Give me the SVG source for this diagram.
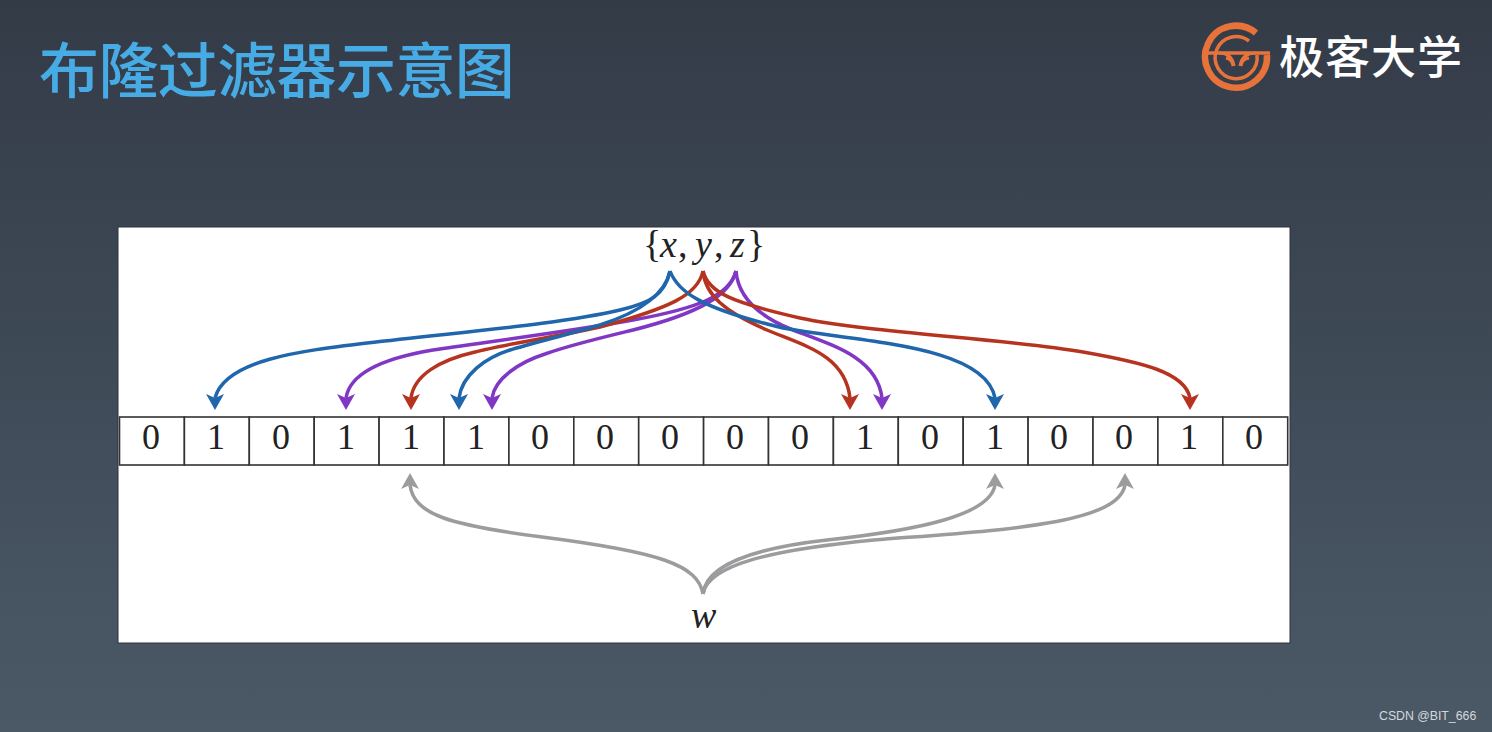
<svg xmlns="http://www.w3.org/2000/svg" width="1492" height="732" viewBox="0 0 1492 732">
<style>
.ttl{font:500 60px "Noto Sans CJK SC","Noto Sans",sans-serif;fill:#47ace6;letter-spacing:-0.6px}
.lg{font:500 45px "Noto Sans CJK SC","Noto Sans",sans-serif;fill:#fff;letter-spacing:1px}
.cell{fill:#fff;stroke:#333;stroke-width:1.6}
.bit{font:36px "Liberation Serif",serif;fill:#222;text-anchor:middle}
.math{font:italic 38px "Liberation Serif",serif;fill:#222}
.up{font-style:normal}
.c{fill:none;stroke-width:3.500}
.blue{stroke:#1f66ac}.red{stroke:#b6341f}.pur{stroke:#8038c4}.gry{stroke:#9c9c9e}
.og{fill:none;stroke:#e8733a}
</style>
<defs>
<linearGradient id="bg" x1="0" y1="0" x2="0" y2="1"><stop offset="0" stop-color="#333b47"/><stop offset="1" stop-color="#4b5967"/></linearGradient>
<marker id="mb" markerUnits="userSpaceOnUse" markerWidth="22" markerHeight="22" refX="4" refY="10" orient="90"><path d="M16 10L0 1L4 10L0 19Z" fill="#1f66ac"/></marker>
<marker id="mr" markerUnits="userSpaceOnUse" markerWidth="22" markerHeight="22" refX="4" refY="10" orient="90"><path d="M16 10L0 1L4 10L0 19Z" fill="#b6341f"/></marker>
<marker id="mp" markerUnits="userSpaceOnUse" markerWidth="22" markerHeight="22" refX="4" refY="10" orient="90"><path d="M16 10L0 1L4 10L0 19Z" fill="#8038c4"/></marker>
<marker id="mg" markerUnits="userSpaceOnUse" markerWidth="22" markerHeight="22" refX="4" refY="10" orient="-90"><path d="M16 10L0 1L4 10L0 19Z" fill="#9c9c9e"/></marker>
</defs>
<rect width="1492" height="732" fill="url(#bg)"/>
<text id="title" class="ttl" x="39" y="93">布隆过滤器示意图</text>
<g id="logo">
<path class="og" stroke-width="6.500" d="M1256 33A31 31 0 1 0 1267 55"/>
<path class="og" stroke-width="3.500" d="M1249 41A21 21 0 1 0 1257 55"/>
<path class="og" stroke-width="3.500" d="M1207 53L1270 53"/>
<path class="og" stroke-width="3" d="M1219 53Q1232 53 1234 66M1226 58Q1232 59 1233 66M1256 53Q1242 53 1240 66M1249 58Q1242 59 1241 66"/>
<text class="lg" x="1279" y="74">极客大学</text>
</g>
<rect id="panel" x="118" y="227" width="1172" height="416" fill="#fff" stroke="#2c3440" stroke-width="1"/>
<g id="bits">
<rect class="cell" x="119.500" y="417" width="64.900" height="48"/><rect class="cell" x="184.400" y="417" width="64.900" height="48"/><rect class="cell" x="249.300" y="417" width="64.900" height="48"/><rect class="cell" x="314.200" y="417" width="64.900" height="48"/><rect class="cell" x="379.100" y="417" width="64.900" height="48"/><rect class="cell" x="444" y="417" width="64.900" height="48"/><rect class="cell" x="508.900" y="417" width="64.900" height="48"/><rect class="cell" x="573.800" y="417" width="64.900" height="48"/><rect class="cell" x="638.700" y="417" width="64.900" height="48"/><rect class="cell" x="703.600" y="417" width="64.900" height="48"/><rect class="cell" x="768.500" y="417" width="64.900" height="48"/><rect class="cell" x="833.400" y="417" width="64.900" height="48"/><rect class="cell" x="898.300" y="417" width="64.900" height="48"/><rect class="cell" x="963.200" y="417" width="64.900" height="48"/><rect class="cell" x="1028.100" y="417" width="64.900" height="48"/><rect class="cell" x="1093" y="417" width="64.900" height="48"/><rect class="cell" x="1157.900" y="417" width="64.900" height="48"/><rect class="cell" x="1222.800" y="417" width="64.900" height="48"/>
<text class="bit" x="151" y="449">0</text><text class="bit" x="216" y="449">1</text><text class="bit" x="281" y="449">0</text><text class="bit" x="346" y="449">1</text><text class="bit" x="411" y="449">1</text><text class="bit" x="476" y="449">1</text><text class="bit" x="540" y="449">0</text><text class="bit" x="605" y="449">0</text><text class="bit" x="670" y="449">0</text><text class="bit" x="735" y="449">0</text><text class="bit" x="800" y="449">0</text><text class="bit" x="865" y="449">1</text><text class="bit" x="930" y="449">0</text><text class="bit" x="995" y="449">1</text><text class="bit" x="1059" y="449">0</text><text class="bit" x="1124" y="449">0</text><text class="bit" x="1189" y="449">1</text><text class="bit" x="1254" y="449">0</text>
</g>
<text id="set" class="math" y="257"><tspan class="up" x="643">{</tspan><tspan x="660">x</tspan><tspan class="up" x="678">,</tspan><tspan x="695">y</tspan><tspan class="up" x="714">,</tspan><tspan x="730">z</tspan><tspan class="up" x="747">}</tspan></text>
<text id="w" class="math" x="691" y="628">w</text>
<g id="connectors">
<path class="c blue" marker-end="url(#mb)" d="M670 271C665 295 650 303 620 310C560 324 470 331 367 343C300 351 225 360 215 398"/>
<path class="c pur" marker-end="url(#mp)" d="M736 271C730 295 700 308 633 320C560 333 470 344 433 350C385 358 350 372 346 398"/>
<path class="c red" marker-end="url(#mr)" d="M703 271C698 295 670 308 600 327C550 338 500 345 475 352C440 360 414 375 411 398"/>
<path class="c blue" marker-end="url(#mb)" d="M670 271C665 295 640 312 600 325C565 335 530 344 510 350C485 358 462 375 459 398"/>
<path class="c pur" marker-end="url(#mp)" d="M736 271C730 295 700 313 633 330C600 338 570 345 545 354C520 362 495 378 492 398"/>
<path class="c red" marker-end="url(#mr)" d="M703 271C705 295 725 312 767 330C805 346 845 355 850 398"/>
<path class="c pur" marker-end="url(#mp)" d="M736 271C738 295 755 315 793 330C835 346 877 358 882 398"/>
<path class="c blue" marker-end="url(#mb)" d="M670 271C678 292 700 308 783 328C860 342 985 345 995 398"/>
<path class="c red" marker-end="url(#mr)" d="M703 271C708 292 730 302 800 318C870 333 1000 338 1083 352C1140 362 1185 372 1190 398"/>
<path class="c gry" marker-end="url(#mg)" d="M703 594C698 565 660 552 542 537C450 525 414 515 410 485"/>
<path class="c gry" marker-end="url(#mg)" d="M703 594C706 565 755 548 827 540C920 530 990 515 995 485"/>
<path class="c gry" marker-end="url(#mg)" d="M703 594C708 565 770 550 874 540C1000 530 1118 525 1125 485"/>
</g>
<text id="wm" x="1379" y="720" style="font:12.300px 'Liberation Sans',sans-serif;fill:#d4d8dc">CSDN @BIT_666</text>
</svg>
